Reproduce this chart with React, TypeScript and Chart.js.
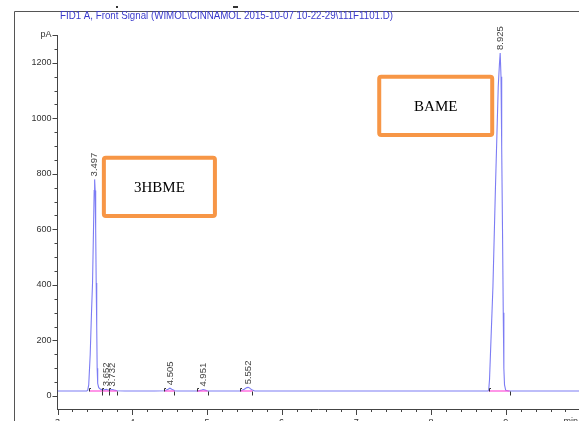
import React, { useEffect, useRef } from "react";
import { Chart, registerables } from "chart.js";
Chart.register(...registerables);

const TITLE = "FID1 A, Front Signal (WIMOL\\CINNAMOL 2015-10-07 10-22-29\\111F1101.D)";
const X_MIN = 3;
const X_MAX = 9.981;
const Y_MIN = -47;
const Y_MAX = 1300;
const X_MAJOR = [3, 4, 5, 6, 7, 8, 9];
const Y_TICKS = [0, 50, 100, 150, 200, 250, 300, 350, 400, 450, 500, 550, 600, 650, 700, 750, 800, 850, 900, 950, 1000, 1050, 1100, 1150, 1200, 1250, 1300];
const Y_LABELS: Record<number, string> = { 0: "0", 200: "200", 400: "400", 600: "600", 800: "800", 1000: "1000", 1200: "1200", 1300: "pA" };

// chromatogram (min, pA)
const signalTimes = [3.0, 3.39, 3.404, 3.418, 3.438, 3.455, 3.469, 3.482, 3.491, 3.497, 3.504, 3.511, 3.518, 3.525, 3.531, 3.538, 3.552, 3.572, 3.598, 3.63, 3.652, 3.67, 3.7, 3.732, 3.76, 3.8, 3.9, 4.3, 4.44, 4.48, 4.505, 4.53, 4.57, 4.6, 4.88, 4.93, 4.951, 4.975, 5.01, 5.45, 5.5, 5.535, 5.552, 5.57, 5.6, 5.64, 8.76, 8.772, 8.783, 8.829, 8.863, 8.9, 8.917, 8.926, 8.937, 8.946, 8.957, 8.967, 8.975, 8.984, 9.0, 9.04, 9.981];
const signalValues = [18, 18, 20, 40, 150, 300, 407, 600, 740, 780, 740, 600, 407, 250, 100, 45, 30, 25, 22, 22, 24, 22, 21, 23, 21, 19, 18, 18, 19, 24, 28, 24, 19, 18, 18, 21, 23, 21, 18, 18, 24, 30, 31, 29, 22, 18, 18, 20, 58, 394, 754, 1114, 1200, 1235, 1150, 900, 600, 300, 100, 40, 20, 18, 18];

const BASELINE = 18;
const peakTimes = [3.497, 3.652, 3.732, 4.505, 4.951, 5.552, 8.925];
const peakLabels = ["3.497", "3.652", "3.732", "4.505", "4.951", "5.552", "8.925"];
const peakApex = [780, 24, 23, 28, 23, 31, 1235];
const integStart = [3.428, 3.594, 3.683, 4.432, 4.866, 5.446, 8.772];
const integEnd = [3.594, 3.683, 3.795, 4.566, 5.008, 5.61, 9.051];

const boxNames = ["3HBME", "BAME"];
const boxX0 = [3.594, 7.28];
const boxX1 = [5.134, 8.846];
const boxYTop = [865, 1157];
const boxYBottom = [641, 933];

const NARROW = "'Liberation Sans Narrow', 'Arial Narrow', 'Liberation Sans', Arial, sans-serif";
const SANS = "'Liberation Sans', Arial, sans-serif";

const W = 579;
const H = 440;

export default function App() {
  const ref = useRef<HTMLCanvasElement | null>(null);
  useEffect(() => {
    if (!ref.current) return;
    const pinkData: any[] = [];
    integStart.forEach((s, i) => {
      pinkData.push({ x: s, y: BASELINE });
      pinkData.push({ x: integEnd[i], y: BASELINE });
      pinkData.push({ x: integEnd[i], y: null });
    });
    const overlay = {
      id: "overlay",
      afterDraw(chart: any) {
        const ctx = chart.ctx as CanvasRenderingContext2D;
        const xs = chart.scales.x;
        const ys = chart.scales.y;
        const area = chart.chartArea;
        ctx.save();
        // frame
        ctx.strokeStyle = "#555";
        ctx.lineWidth = 1;
        ctx.beginPath();
        ctx.moveTo(14.5, 421);
        ctx.lineTo(14.5, 11.5);
        ctx.lineTo(W, 11.5);
        ctx.stroke();
        ctx.fillStyle = "#333";
        ctx.fillRect(116, 6, 2, 2);
        ctx.fillRect(233, 6, 5, 2);
        // y ticks
        ctx.strokeStyle = "#444";
        Y_TICKS.forEach((v) => {
          const py = Math.round(ys.getPixelForValue(v)) + 0.5;
          const len = v % 200 === 0 || v === 1300 ? 5 : 3;
          ctx.beginPath();
          ctx.moveTo(area.left - len, py);
          ctx.lineTo(area.left, py);
          ctx.stroke();
        });
        // x ticks
        for (let k = 0; k <= 35; k++) {
          const t = 3 + k * 0.2;
          if (t > X_MAX) break;
          const px = Math.round(xs.getPixelForValue(t)) + 0.5;
          const len = k % 5 === 0 ? 6 : 3;
          ctx.beginPath();
          ctx.moveTo(px, area.bottom);
          ctx.lineTo(px, area.bottom + len);
          ctx.stroke();
        }
        ctx.font = `9px ${NARROW}`;
        ctx.fillStyle = "#333";
        ctx.textAlign = "right";
        ctx.textBaseline = "top";
        ctx.fillText("min", 578, 417);
        // integration marks
        ctx.strokeStyle = "#333";
        const by = Math.round(ys.getPixelForValue(BASELINE)) + 0.5;
        integStart.forEach((s, i) => {
          const sx = Math.round(xs.getPixelForValue(s)) + 0.5;
          ctx.beginPath();
          ctx.moveTo(sx, by);
          ctx.lineTo(sx, by - 3);
          ctx.lineTo(sx + 1.5, by - 3);
          ctx.stroke();
          const ex = Math.round(xs.getPixelForValue(integEnd[i])) + 0.5;
          ctx.beginPath();
          ctx.moveTo(ex, by);
          ctx.lineTo(ex, by + 4);
          ctx.stroke();
        });
        // peak labels
        ctx.fillStyle = "#444";
        ctx.font = `9.5px ${SANS}`;
        ctx.textAlign = "left";
        ctx.textBaseline = "middle";
        peakTimes.forEach((t, i) => {
          const px = xs.getPixelForValue(t);
          const py = ys.getPixelForValue(peakApex[i]) - 3;
          ctx.save();
          ctx.translate(px, py);
          ctx.rotate(-Math.PI / 2);
          ctx.fillText(peakLabels[i], 0, 0);
          ctx.restore();
        });
        // title
        ctx.fillStyle = "#3a3acc";
        ctx.font = `10.5px ${NARROW}`;
        ctx.textAlign = "left";
        ctx.textBaseline = "middle";
        const tw = ctx.measureText(TITLE).width;
        ctx.save();
        ctx.translate(60, 16.5);
        ctx.scale(333 / tw, 1);
        ctx.fillText(TITLE, 0, 0);
        ctx.restore();
        // annotation boxes
        boxNames.forEach((name, i) => {
          const x0 = xs.getPixelForValue(boxX0[i]);
          const x1 = xs.getPixelForValue(boxX1[i]);
          const y0 = ys.getPixelForValue(boxYTop[i]);
          const y1 = ys.getPixelForValue(boxYBottom[i]);
          ctx.fillStyle = "#ffffff";
          ctx.fillRect(x0, y0, x1 - x0, y1 - y0);
          ctx.strokeStyle = "#f79646";
          ctx.lineWidth = 4;
          ctx.lineJoin = "round";
          ctx.beginPath();
          (ctx as any).roundRect
            ? (ctx as any).roundRect(x0 + 2, y0 + 2, x1 - x0 - 4, y1 - y0 - 4, 2)
            : ctx.rect(x0 + 2, y0 + 2, x1 - x0 - 4, y1 - y0 - 4);
          ctx.stroke();
          ctx.fillStyle = "#000";
          ctx.font = `15px 'Liberation Serif', 'Times New Roman', serif`;
          ctx.textAlign = "center";
          ctx.textBaseline = "middle";
          ctx.fillText(name, (x0 + x1) / 2, (y0 + y1) / 2 + 1);
        });
        ctx.restore();
      },
    };
    const chart = new Chart(ref.current, {
      type: "line",
      data: {
        datasets: [
          {
            data: signalTimes.map((t, i) => ({ x: t, y: signalValues[i] })),
            borderColor: "rgba(80,80,240,0.75)",
            borderWidth: 1.1,
            pointRadius: 0,
            tension: 0,
            order: 2,
          },
          {
            data: pinkData,
            borderColor: "rgba(255,90,220,0.85)",
            borderWidth: 1.5,
            pointRadius: 0,
            spanGaps: false,
            order: 1,
          },
        ],
      },
      options: {
        animation: false,
        responsive: false,
        devicePixelRatio: 1,
        layout: { padding: { top: 35, left: 0, right: 0, bottom: 0 } },
        plugins: { legend: { display: false }, tooltip: { enabled: false }, title: { display: false } },
        scales: {
          x: {
            type: "linear",
            min: X_MIN,
            max: X_MAX,
            afterBuildTicks: (s: any) => {
              s.ticks = X_MAJOR.map((v) => ({ value: v }));
            },
            afterFit: (s: any) => {
              s.height = H - 409;
            },
            grid: { display: false, drawTicks: false },
            border: { display: true, color: "#444", width: 1 },
            ticks: {
              autoSkip: false,
              maxRotation: 0,
              padding: 8,
              color: "#333",
              font: { family: NARROW, size: 9 },
              callback: (v: any) => String(v),
            },
          },
          y: {
            type: "linear",
            min: Y_MIN,
            max: Y_MAX,
            afterBuildTicks: (s: any) => {
              s.ticks = Y_TICKS.map((v) => ({ value: v }));
            },
            afterFit: (s: any) => {
              s.width = 57.5;
            },
            grid: { display: false, drawTicks: false },
            border: { display: true, color: "#444", width: 1 },
            ticks: {
              autoSkip: false,
              padding: 6,
              color: "#333",
              font: { family: NARROW, size: 9 },
              callback: (v: any) => Y_LABELS[v as number] ?? "",
            },
          },
        },
      },
      plugins: [overlay],
    } as any);
    return () => chart.destroy();
  }, []);
  return (
    <div style={{ position: "fixed", left: 0, top: 0, width: W, height: 421, overflow: "hidden", background: "#fff" }}>
      <canvas ref={ref} width={W} height={H} style={{ display: "block", width: W, height: H }} />
    </div>
  );
}
